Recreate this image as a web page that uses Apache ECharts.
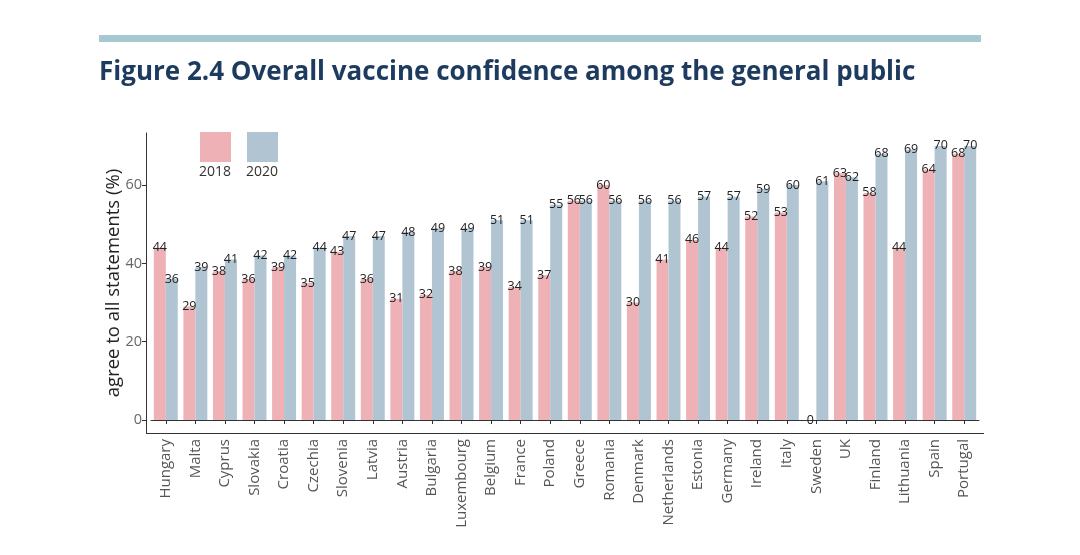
<!DOCTYPE html>
<html>
<head>
<meta charset="utf-8">
<script src="https://cdn.jsdelivr.net/npm/echarts@6/dist/echarts.min.js"></script>
<style>
html,body{margin:0;padding:0;background:#ffffff;}
#chart{width:1080px;height:555px;}
</style>
</head>
<body>
<div id="chart"></div>
<script>
const countries = ["Hungary","Malta","Cyprus","Slovakia","Croatia","Czechia","Slovenia","Latvia","Austria","Bulgaria","Luxembourg","Belgium","France","Poland","Greece","Romania","Denmark","Netherlands","Estonia","Germany","Ireland","Italy","Sweden","UK","Finland","Lithuania","Spain","Portugal"];
const values2018 = [44,29,38,36,39,35,43,36,31,32,38,39,34,37,56,60,30,41,46,44,52,53,0,63,58,44,64,68];
const values2020 = [36,39,41,42,42,44,47,47,48,49,49,51,51,55,56,56,56,56,57,57,59,60,61,62,68,69,70,70];
const seriesNames = ["2018","2020"];
const yTicks = [0,20,40,60];
const titleText = "Figure 2.4 Overall vaccine confidence among the general public";
const yAxisTitle = "agree to all statements (%)";

const colors = ["#eeb1b6","#b0c4d2"];
const font = "'Open Sans', sans-serif";

const chart = echarts.init(document.getElementById('chart'), null, {renderer:'canvas'});

const labelCfg = {
  show: true,
  position: ['50%', 0],
  align: 'center',
  verticalAlign: 'middle',
  fontFamily: font,
  fontSize: 12.5,
  color: '#222'
};

const legendGraphics = [];
seriesNames.forEach((n, i) => {
  const x0 = 200 + i * 47;
  legendGraphics.push({type:'rect', left: x0, top: 132, shape:{width:31, height:30}, style:{fill: colors[i]}});
  legendGraphics.push({type:'text', left: x0 - 1, top: 165, style:{text: n, fontFamily: font, fontSize: 14, fill:'#333'}});
});

chart.setOption({
  backgroundColor: '#ffffff',
  animation: false,
  title: {
    text: titleText,
    left: 99, top: 60, padding: 0,
    textStyle: {fontFamily: font, fontWeight: 'bold', fontSize: 26, color: '#1d3a5f'}
  },
  graphic: [
    {type:'rect', left: 99, top: 35, shape:{width: 882, height: 7}, style:{fill:'#a6c8d0'}},
    {type:'line', shape:{x1:146, y1:433.5, x2:984, y2:433.5}, style:{stroke:'#333', lineWidth:1}},
    ...legendGraphics
  ],
  grid: {left: 151, right: 101, top: 133, bottom: 122, containLabel: false},
  xAxis: {
    type: 'category',
    data: countries,
    axisLine: {show: true, lineStyle: {color: '#333'}},
    axisTick: {show: true, alignWithLabel: true, length: 4, lineStyle: {color: '#333'}},
    axisLabel: {rotate: 90, margin: 6, interval: 0, fontFamily: font, fontSize: 15, color: '#555'}
  },
  yAxis: {
    type: 'value',
    min: -3.3, max: 73.3,
    offset: 5,
    name: yAxisTitle,
    nameLocation: 'middle',
    nameGap: 23,
    nameMoveOverlap: false,
    nameTextStyle: {fontFamily: font, fontSize: 18.5, color: '#222'},
    axisLine: {show: true, lineStyle: {color: '#333'}},
    axisTick: {show: true, length: 4, lineStyle: {color: '#333'}, customValues: yTicks},
    axisLabel: {fontFamily: font, fontSize: 14.5, color: '#666', margin: 4, customValues: yTicks},
    splitLine: {show: false}
  },
  series: [
    {name: seriesNames[0], type: 'bar', data: values2018, itemStyle: {color: colors[0]}, barGap: '0%', barCategoryGap: '19%', label: labelCfg},
    {name: seriesNames[1], type: 'bar', data: values2020, itemStyle: {color: colors[1]}, barGap: '0%', barCategoryGap: '19%', label: labelCfg}
  ]
});
</script>
</body>
</html>
